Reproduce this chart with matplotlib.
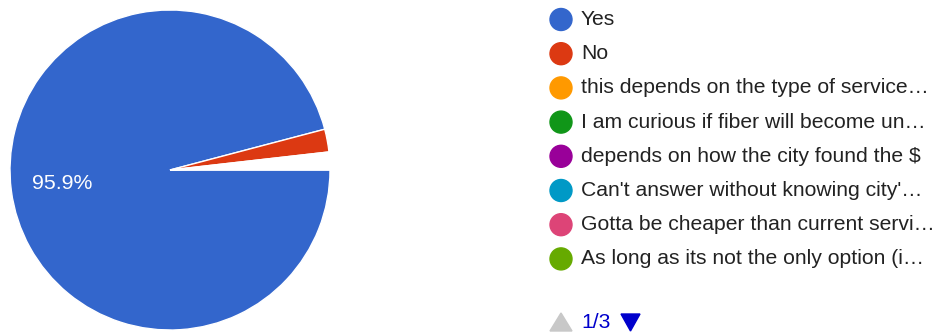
import matplotlib
matplotlib.use("Agg")
import matplotlib.pyplot as plt
from matplotlib.patches import Ellipse, Polygon

categories = [
    "Yes",
    "No",
    "this depends on the type of service\u2026",
    "I am curious if fiber will become un\u2026",
    "depends on how the city found the $",
    "Can't answer without knowing city'\u2026",
    "Gotta be cheaper than current servi\u2026",
    "As long as its not the only option (i\u2026",
]
values = [95.9, 2.3, 0.3, 0.3, 0.3, 0.3, 0.3, 0.3]
colors = ["#3366cc", "#dc3912", "#ff9900", "#109618", "#990099", "#0099c6", "#dd4477", "#66aa00"]
page_label = "1/3"

W, H = 948, 333
fig = plt.figure(figsize=(W / 100, H / 100), dpi=100)
plt.rcParams['font.family'] = ['Liberation Sans', 'DejaVu Sans']

# pie axes: centre (170,170) px from top, radius 160 px
cx, cy, r = 170, 170, 160
ax = fig.add_axes([(cx - r) / W, (H - cy - r) / H, 2 * r / W, 2 * r / H])
# tiny slices fall below the visibility threshold and are not drawn (white)
face = [colors[i] if values[i] > 1 else "white" for i in range(len(values))]
wedges, texts, autotexts = ax.pie(
    values, colors=face, startangle=0, counterclock=False, radius=1,
    wedgeprops=dict(edgecolor="white", linewidth=1),
    autopct=lambda p: f"{p:.1f}%" if p > 5 else "", pctdistance=0.68,
    textprops=dict(color="white", fontsize=15.3),
)
ax.set_xlim(-1, 1)
ax.set_ylim(-1, 1)
ax.set_aspect("equal")
ax.axis("off")

def fx(x):
    return x / W

def fy(y):
    return 1 - y / H

# legend
lx, ly0, dy = 561, 19.5, 34.2
for i, (lab, col) in enumerate(zip(categories, colors)):
    y = ly0 + i * dy
    fig.add_artist(Ellipse((fx(lx), fy(y)), 22 / W, 22 / H,
                           transform=fig.transFigure, color=col))
    fig.text(fx(581), fy(y), lab, fontsize=15.2, color="#222222", va="center", ha="left")

# pagination
fig.add_artist(Polygon([(fx(550), fy(331)), (fx(572), fy(331)), (fx(561), fy(313))],
                       closed=True, transform=fig.transFigure, color="#c8c8c8"))
fig.text(fx(581), fy(322), page_label, fontsize=15.2, color="#0000cc", ha="left", va="center")
fig.add_artist(Polygon([(fx(621), fy(314)), (fx(640), fy(314)), (fx(630.5), fy(331))],
                       closed=True, transform=fig.transFigure, color="#0000cc"))

fig.savefig("out.png", dpi=100, facecolor="white")
